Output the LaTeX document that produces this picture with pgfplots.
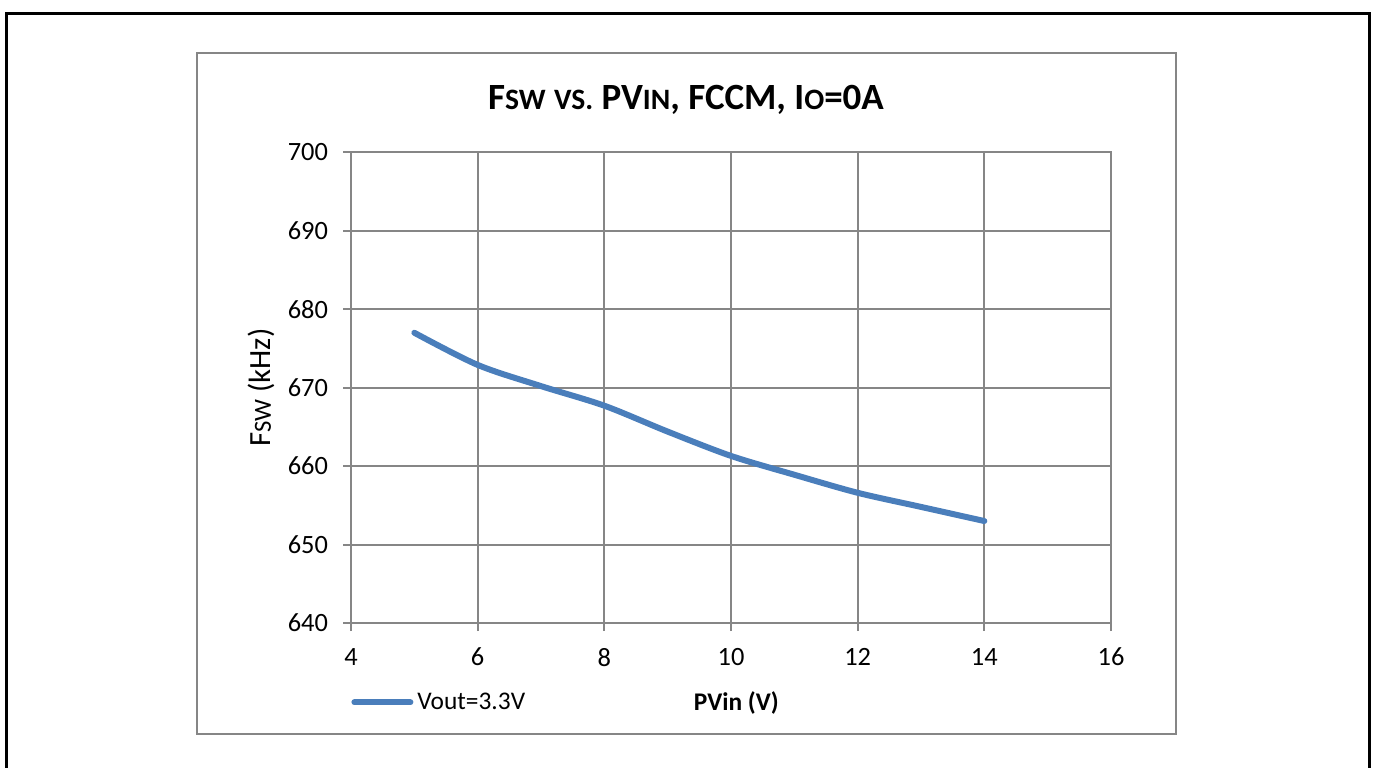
\documentclass[border=0pt]{standalone}
\usepackage{fontspec}
\setmainfont{Carlito}
\usepackage{pgfplots}
\pgfplotsset{compat=1.18}

\definecolor{gridgray}{HTML}{868686}
\definecolor{serblue}{HTML}{4A7EBB}
\newcommand{\sz}[1]{\fontsize{#1}{#1}\selectfont}

\begin{document}
\begin{tikzpicture}
\useasboundingbox (0,0) rectangle (687.5pt,-383.5pt);
% page frame (open at the bottom) and chart area
\draw[black, line width=1.5pt] (3pt,-400pt) -- (3pt,-6.67pt) -- (684.75pt,-6.67pt) -- (684.75pt,-400pt);
\draw[gridgray, line width=1pt] (98.3pt,-26.7pt) rectangle (588pt,-367.2pt);

\node[anchor=base] at (343pt,-54.65pt)
  {\sz{18.5}\bfseries F{\sz{14.8}SW} {\sz{14.8}VS.} PV{\sz{14.8}IN}, FCCM, I{\sz{14.8}O}=0A};

\begin{axis}[
  at={(175.5pt,-311.5pt)}, anchor=south west,
  scale only axis, width=380pt, height=235.35pt,
  xmin=4, xmax=16, ymin=640, ymax=700,
  xtick={4,6,...,16}, ytick={640,650,...,700},
  grid=major, major grid style={gridgray, line width=1pt},
  axis line style={gridgray, line width=1pt},
  tick style={gridgray, line width=1pt},
  tick align=outside, major tick length=4pt,
  xtick pos=left, ytick pos=left,
  /pgf/number format/assume math mode=true,
  xticklabel={\pgfmathprintnumber{\tick}},
  yticklabel={\pgfmathprintnumber{\tick}},
  ticklabel style={font=\sz{13.2}, text=black},
  xticklabel style={yshift=-5pt},
  yticklabel style={xshift=-4pt},
  xlabel={PVin (V)},
  xlabel style={at={(axis description cs:0.507,-0.1848)}, anchor=base, font=\sz{12.7}\bfseries},
  ylabel={F{\sz{12.3}SW} (kHz)},
  ylabel style={at={(axis description cs:-0.1175,0.5)}, anchor=center, font=\sz{15.4}},
  legend style={at={(axis description cs:0,-0.1685)}, anchor=west, draw=none, fill=none,
    inner sep=0pt, font=\sz{12.7}},
  legend cell align=left,
  legend image code/.code={\draw[#1, line width=3pt, line cap=round] (0pt,0pt) -- (28pt,0pt);},
]
\addplot[serblue, line width=3pt, line cap=round, line join=round, smooth, tension=0.5]
  coordinates {(5,677.0) (6,672.9) (7,670.2) (8,667.7) (9,664.4) (10,661.3)
               (11,658.9) (12,656.6) (13,654.8) (14,653.0)};
\addlegendentry{Vout=3.3V}
\end{axis}
\end{tikzpicture}
\end{document}
